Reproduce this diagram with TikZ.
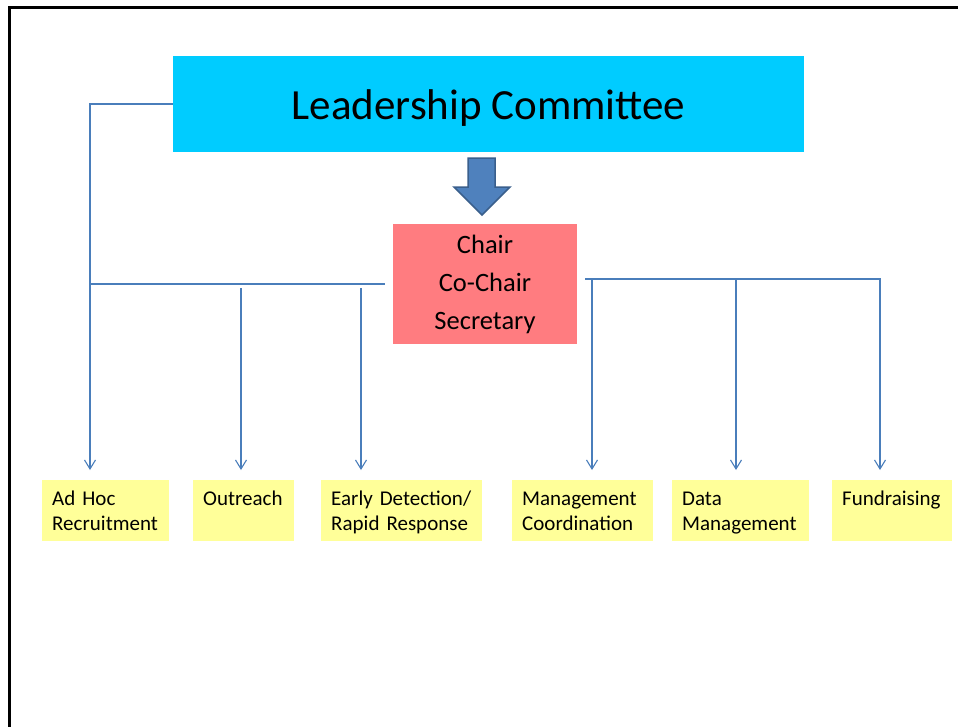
\documentclass[tikz,border=0pt]{standalone}
\usepackage{fontspec}
\setmainfont{Carlito}
\usetikzlibrary{arrows.meta,calc}
\definecolor{leadcyan}{HTML}{00CCFF}
\definecolor{chairpink}{HTML}{FF7C80}
\definecolor{teamyellow}{HTML}{FFFF99}
\definecolor{linkblue}{HTML}{4A7EBB}
\definecolor{arrowfill}{HTML}{4F81BD}
\definecolor{arrowedge}{HTML}{3A5F8C}
% fixed line heights so every group label sits at the same place
\newcommand\topstrut{\rule{0pt}{19.5pt}}
\newcommand\botstrut{\rule[-5.5pt]{0pt}{5.5pt}}
\tikzset{
  leadbox/.style={fill=leadcyan, minimum width=631pt, minimum height=96pt, inner sep=0pt,
    text height=36pt, text depth=5pt, font=\fontsize{43}{50}\selectfont},
  chairbox/.style={fill=chairpink, minimum width=184pt, minimum height=120pt, inner sep=0pt,
    align=center, font=\fontsize{26.5}{38}\selectfont},
  teambox/.style={fill=teamyellow, anchor=north west, minimum height=61pt, inner ysep=0pt,
    inner xsep=10pt, align=left, font=\fontsize{21}{25}\selectfont},
  link/.style={draw=linkblue, line width=1.1pt},
  linkarrow/.style={link, -{Straight Barb[length=9pt,width=11pt,line width=1.1pt]}},
  blockarrow/.style={fill=arrowfill, draw=arrowedge, line width=1.5pt, line join=miter},
  frameline/.style={draw=black, line width=3pt}
}
\begin{document}
\begin{tikzpicture}[x=1pt,y=-1pt]
  \useasboundingbox (0,0) rectangle (958,726);
  \fill[white] (0,0) rectangle (958,726);

  % page frame
  \draw[frameline] (9,727) -- (9,7) -- (959,7);

  % committee and officers
  \node[leadbox] (lead) at (488.5,104) {Leadership Committee};
  \node[chairbox] (chair) at (485,284) {\raisebox{-2pt}{Chair}\\\raisebox{-2pt}{Co-Chair}\\\raisebox{-2pt}{Secretary}};

  % block arrow between them
  \draw[blockarrow] (468,158) -- (495,158) -- (495,187) -- (510,187)
    -- (482,215) -- (454,187) -- (468,187) -- cycle;

  % working groups
  \node[teambox, text width=107pt] (adhoc)  at (42,480)  {\topstrut Ad Hoc\\Recruitment\botstrut};
  \node[teambox, text width=81pt]  (outr)   at (193,480) {\topstrut Outreach\\\botstrut};
  \node[teambox, text width=141pt] (early)  at (321,480) {\topstrut Early Detection/\\Rapid Response\botstrut};
  \node[teambox, text width=121pt] (mgmt)   at (512,480) {\topstrut Management\\Coordination\botstrut};
  \node[teambox, text width=117pt] (data)   at (672,480) {\topstrut Data\\Management\botstrut};
  \node[teambox, text width=100pt] (fund)   at (832,480) {\topstrut Fundraising\\\botstrut};

  % arrow ends above the working groups
  \coordinate (e1) at (90,470);
  \coordinate (e2) at (241,470);
  \coordinate (e3) at (361,470);
  \coordinate (e4) at (592,470);
  \coordinate (e5) at (736,470);
  \coordinate (e6) at (880,470);

  % left branch
  \draw[linkarrow] (lead.west) -| (e1);
  \draw[link] (90,284) -- ([xshift=-8pt]chair.west);
  \draw[linkarrow] (e2 |- 0,288) -- (e2);
  \draw[linkarrow] (e3 |- 0,288) -- (e3);

  % right branch
  \draw[linkarrow] ([shift={(8pt,5pt)}]chair.east) -| (e6);
  \draw[linkarrow] (e4 |- 0,280) -- (e4);
  \draw[linkarrow] (e5 |- 0,280) -- (e5);
\end{tikzpicture}
\end{document}
